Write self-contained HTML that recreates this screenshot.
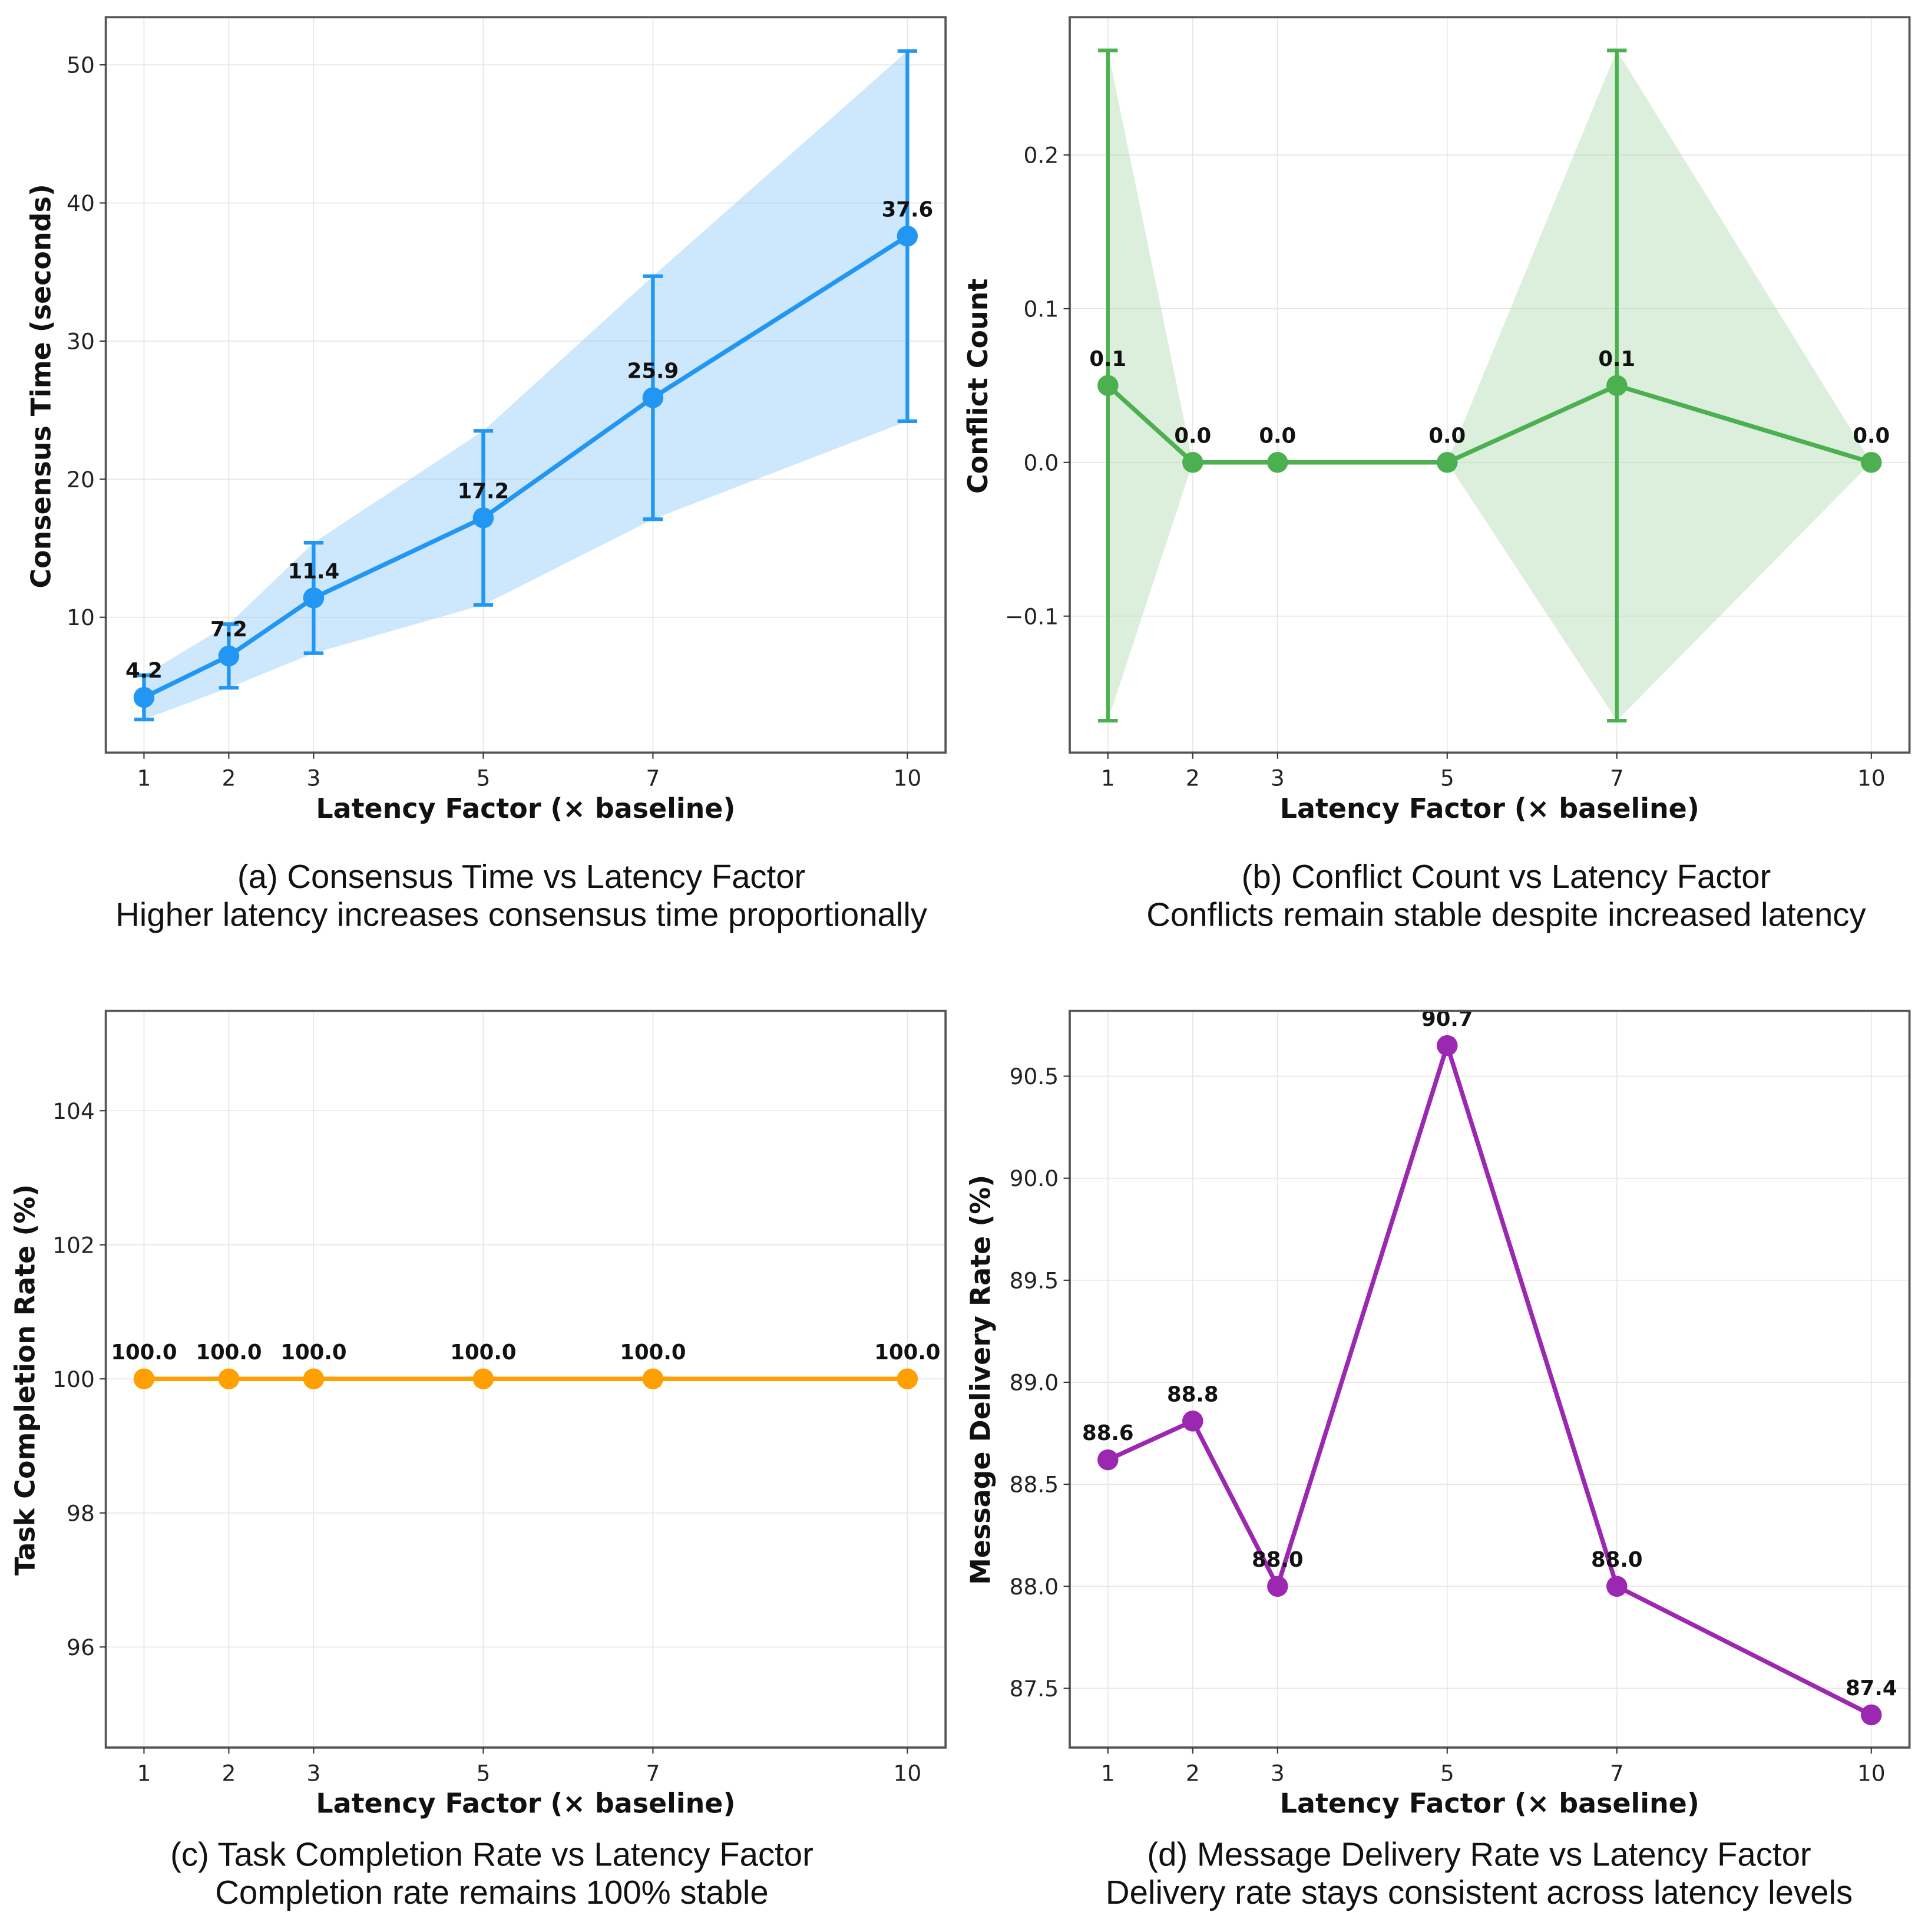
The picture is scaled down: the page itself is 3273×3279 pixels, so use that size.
<!DOCTYPE html>
<html><head><meta charset="utf-8">
<style>
html,body{margin:0;padding:0;background:#fff;}
svg{display:block;}
text{font-family:"DejaVu Sans","Liberation Sans",sans-serif;}
.cap{font-family:"Liberation Sans","Noto Sans CJK SC",sans-serif;font-size:27px;fill:#111;}
</style></head>
<body>
<svg id="fig" xmlns="http://www.w3.org/2000/svg" width="3273" height="3279" viewBox="0 0 1568 1571"></svg>
<script>
const xCats = [1, 2, 3, 5, 7, 10];
const consensusMean = [4.2, 7.2, 11.4, 17.2, 25.9, 37.6];
const consensusStd = [1.6, 2.3, 4.0, 6.3, 8.8, 13.4];
const conflictMean = [0.05, 0, 0, 0, 0.05, 0];
const conflictStd = [0.218, 0, 0, 0, 0.218, 0];
const conflictLabels = ["0.1", "0.0", "0.0", "0.0", "0.1", "0.0"];
const completionRate = [100, 100, 100, 100, 100, 100];
const deliveryRate = [88.62, 88.81, 88.0, 90.65, 88.0, 87.37];
const yTicksA = [10, 20, 30, 40, 50];
const yTicksB = [-0.1, 0.0, 0.1, 0.2];
const yTickLabelsB = ["\u22120.1", "0.0", "0.1", "0.2"];
const yTicksC = [96, 98, 100, 102, 104];
const yTicksD = [87.5, 88.0, 88.5, 89.0, 89.5, 90.0, 90.5];
const yTickLabelsD = ["87.5", "88.0", "88.5", "89.0", "89.5", "90.0", "90.5"];

const NS = "http://www.w3.org/2000/svg";
const svg = document.getElementById("fig");
function mk(tag, attrs, parent, txt) {
  const e = document.createElementNS(NS, tag);
  for (const k in attrs) e.setAttribute(k, attrs[k]);
  if (txt !== undefined) e.textContent = txt;
  (parent || svg).appendChild(e);
  return e;
}

function panel(o) {
  const g = mk("g", {});
  
  
  const L = o.box[0], T = o.box[1], R = o.box[2], B = o.box[3];
  const xs = v => L + (v - 0.55) / 9.9 * (R - L);
  const ys = v => B - (v - o.ylim[0]) / (o.ylim[1] - o.ylim[0]) * (B - T);
  xCats.forEach(v => {
    const l = mk("line", {x1: xs(v), x2: xs(v), y1: T, y2: B, stroke: "#e6e6e6", "stroke-width": 0.8}, g);
    
    
  });
  o.yTicks.forEach(v => {
    const l = mk("line", {x1: L, x2: R, y1: ys(v), y2: ys(v), stroke: "#e6e6e6", "stroke-width": 0.8}, g);
    
    
  });
  if (o.std) {
    let pts = xCats.map((v, i) => xs(v) + "," + ys(o.vals[i] + o.std[i]));
    pts = pts.concat(xCats.map((v, i) => xs(v) + "," + ys(o.vals[i] - o.std[i])).reverse());
    const p = mk("polygon", {points: pts.join(" "), fill: o.fill, "fill-opacity": o.fillOp}, g);
    
    
    xCats.forEach((v, i) => {
      if (o.std[i] <= 0) return;
      const eg = mk("g", {stroke: o.color, "stroke-width": 3}, g);
      
      
      const x = xs(v), y1 = ys(o.vals[i] + o.std[i]), y2 = ys(o.vals[i] - o.std[i]);
      mk("line", {x1: x, x2: x, y1: y1, y2: y2}, eg);
      mk("line", {x1: x - 8, x2: x + 8, y1: y1, y2: y1}, eg);
      mk("line", {x1: x - 8, x2: x + 8, y1: y2, y2: y2}, eg);
    });
  }
  const pl = mk("polyline", {points: xCats.map((v, i) => xs(v) + "," + ys(o.vals[i])).join(" "), fill: "none", stroke: o.color, "stroke-width": 3.6, "stroke-linejoin": "round"}, g);
  
  
  xCats.forEach((v, i) => {
    const c = mk("circle", {cx: xs(v), cy: ys(o.vals[i]), r: 8.5, fill: o.color}, g);
    
    
    const t = mk("text", {x: xs(v), y: ys(o.vals[i]) - 16, "text-anchor": "middle", "font-size": 17, "font-weight": "bold", fill: "#111"}, g, o.labels[i]);
    
    
  });
  const fr = mk("rect", {x: L, y: T, width: R - L, height: B - T, fill: "none", stroke: "#555", "stroke-width": 1.8}, g);
  
  
  xCats.forEach(v => {
    mk("line", {x1: xs(v), x2: xs(v), y1: B, y2: B + 5, stroke: "#333", "stroke-width": 1}, g);
    const t = mk("text", {x: xs(v), y: B + 27, "text-anchor": "middle", "font-size": 18, fill: "#222"}, g, String(v));
    
    
  });
  o.yTicks.forEach((v, i) => {
    mk("line", {x1: L - 5, x2: L, y1: ys(v), y2: ys(v), stroke: "#333", "stroke-width": 1}, g);
    const t = mk("text", {x: L - 9, y: ys(v) + 6.5, "text-anchor": "end", "font-size": 18, fill: "#222"}, g, o.yTickLabels ? o.yTickLabels[i] : String(v));
    
    
  });
  const xl = mk("text", {x: (L + R) / 2 + 0, y: B + 53, "text-anchor": "middle", "font-size": 22, "font-weight": "bold", fill: "#111"}, g, "Latency Factor (\u00d7 baseline)");
  
  
  const yl = mk("text", {x: 0, y: 0, "text-anchor": "middle", "font-size": 22, "font-weight": "bold", fill: "#111", transform: "translate(" + o.ylx + "," + o.yly + ") rotate(-90)"}, g, o.ytitle);
  
  
  o.caps.forEach((c, i) => {
    const t = mk("text", {x: o.capx, y: o.capy + i * 31, "text-anchor": "middle", class: "cap"}, g, c);
    
    
  });
}

panel({name: "panel-a-consensus-time", box: [86, 14, 769, 612], ylim: [0.2, 53.45], yTicks: yTicksA,
  vals: consensusMean, std: consensusStd, labels: consensusMean.map(v => v.toFixed(1)),
  color: "#2196f3", fill: "#90caf9", fillOp: 0.45, ytitle: "Consensus Time (seconds)", ylx: 41, yly: 314,
  caps: ["(a) Consensus Time vs Latency Factor", "Higher latency increases consensus time proportionally"], capx: 424, capy: 722});
panel({name: "panel-b-conflict-count", box: [870, 14, 1553, 612], ylim: [-0.1888, 0.2896], yTicks: yTicksB, yTickLabels: yTickLabelsB,
  vals: conflictMean, std: conflictStd, labels: conflictLabels,
  color: "#4caf50", fill: "#a5d6a7", fillOp: 0.4, ytitle: "Conflict Count", ylx: 803, yly: 314,
  caps: ["(b) Conflict Count vs Latency Factor", "Conflicts remain stable despite increased latency"], capx: 1225, capy: 722});
panel({name: "panel-c-task-completion", box: [86, 822, 769, 1421], ylim: [94.5, 105.49], yTicks: yTicksC,
  vals: completionRate, labels: completionRate.map(v => v.toFixed(1)),
  color: "#ff9f00", ytitle: "Task Completion Rate (%)", ylx: 28, yly: 1122,
  caps: ["(c) Task Completion Rate vs Latency Factor", "Completion rate remains 100% stable"], capx: 400, capy: 1517});
panel({name: "panel-d-message-delivery", box: [870, 822, 1553, 1421], ylim: [87.21, 90.82], yTicks: yTicksD, yTickLabels: yTickLabelsD,
  vals: deliveryRate, labels: deliveryRate.map(v => v.toFixed(1)),
  color: "#9c27b0", ytitle: "Message Delivery Rate (%)", ylx: 805, yly: 1122,
  caps: ["(d) Message Delivery Rate vs Latency Factor", "Delivery rate stays consistent across latency levels"], capx: 1203, capy: 1517});
</script>
</body></html>
